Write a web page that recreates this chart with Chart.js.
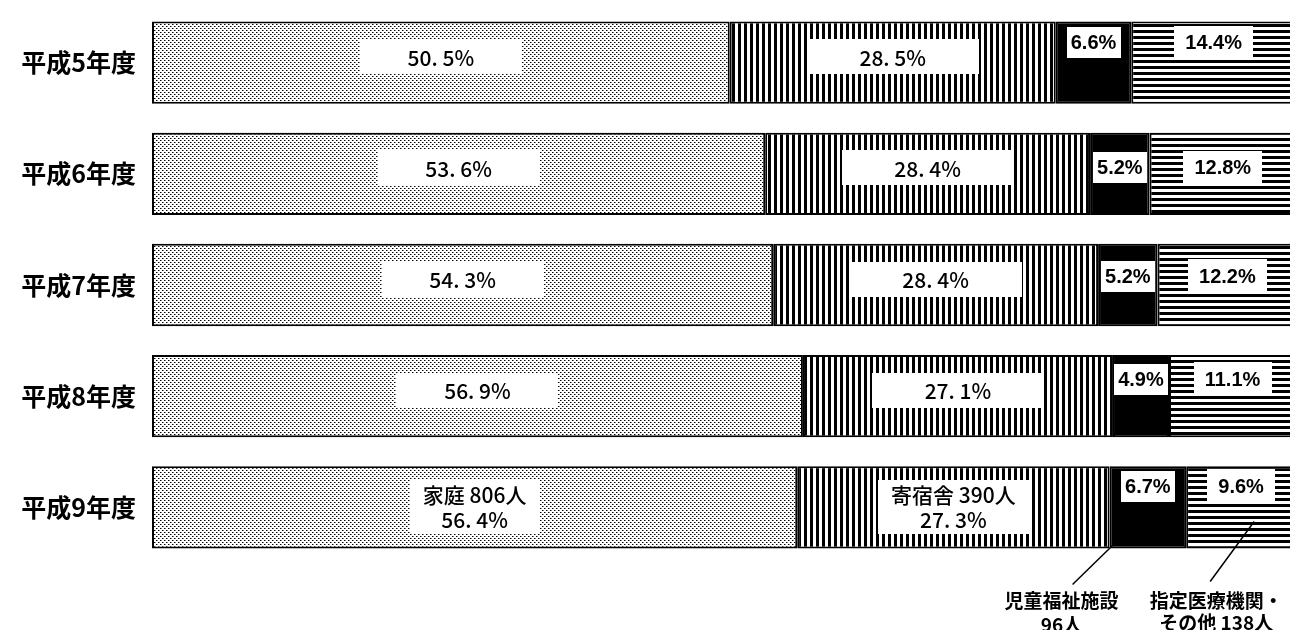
<!DOCTYPE html>
<html>
<head>
<meta charset="utf-8">
<script src="https://cdn.jsdelivr.net/npm/chart.js@4.4.0/dist/chart.umd.min.js"></script>
<style>
  html, body { margin:0; padding:0; background:#fff; overflow:hidden; }
  canvas { display:block; }
</style>
</head>
<body>
<canvas id="chart" width="1296" height="630"></canvas>
<script>
/* ====== Data ====== */
const years = ["平成5年度","平成6年度","平成7年度","平成8年度","平成9年度"];
const seriesNames = ["家庭","寄宿舎","児童福祉施設","指定医療機関・その他"];
const home    = [50.5, 53.6, 54.3, 56.9, 56.4];
const dorm    = [28.5, 28.4, 28.4, 27.1, 27.3];
const welfare = [6.6, 5.2, 5.2, 4.9, 6.7];
const medical = [14.4, 12.8, 12.2, 11.1, 9.6];
const counts9 = [806, 390, 96, 138];   // 平成9年度 人数
const xTicks  = [0, 100];

/* ====== Patterns ====== */
function makePattern(kind){
  const c = document.createElement("canvas");
  const g = c.getContext("2d");
  if (kind === "dots"){
    c.width = 4; c.height = 4;
    g.fillStyle = "#fff"; g.fillRect(0,0,4,4);
    g.fillStyle = "#000"; g.fillRect(0,0,1,1); g.fillRect(2,2,1,1);
    g.fillStyle = "#888"; g.fillRect(1,0,1,1); g.fillRect(3,2,1,1);
  } else if (kind === "vert"){
    c.width = 6; c.height = 6;
    g.fillStyle = "#fff"; g.fillRect(0,0,6,6);
    g.fillStyle = "#000"; g.fillRect(0,0,3,6);
  } else {
    c.width = 6; c.height = 6;
    g.fillStyle = "#fff"; g.fillRect(0,0,6,6);
    g.fillStyle = "#000"; g.fillRect(0,0,6,3);
  }
  return g.createPattern(c, "repeat");
}
const fills = [makePattern("dots"), makePattern("vert"), "#000", makePattern("horiz")];

// label text: first two series in "50. 5%" style
const fmtWide = v => { const [a,b] = v.toFixed(1).split("."); return `${a}. ${b}%`; };
const fmtNarrow = v => `${v.toFixed(1)}%`;
const smallOffset = [-20, -6, -9, -17, -21];

function box(ctx, cx, cy, w, h){
  ctx.fillStyle = "#fff";
  ctx.fillRect(Math.round(cx - w/2), Math.round(cy - h/2), Math.round(w), Math.round(h));
}

const labelPlugin = {
  id: "boxLabels",
  afterDatasetsDraw(chart){
    const { ctx } = chart;
    ctx.save();
    ctx.textAlign = "center";
    ctx.textBaseline = "middle";
    chart.data.datasets.forEach((ds, di) => {
      const meta = chart.getDatasetMeta(di);
      meta.data.forEach((bar, i) => {
        const v = ds.data[i];
        const cx = (bar.x + bar.base) / 2;
        const last = i === years.length - 1;
        if (di < 2){
          ctx.font = '500 21px "Noto Sans CJK JP", sans-serif';
          if (last){
            const l1 = `${seriesNames[di]} ${counts9[di]}人`, l2 = fmtWide(v);
            const w = Math.max(ctx.measureText(l1).width, ctx.measureText(l2).width) + 26;
            box(ctx, cx, bar.y, w, 54);
            ctx.fillStyle = "#000";
            ctx.fillText(l1, cx, bar.y - 12);
            ctx.fillText(l2, cx, bar.y + 13);
          } else {
            const cy = bar.y - 6;
            box(ctx, cx, cy, di === 0 ? 162 : 172, 35);
            ctx.fillStyle = "#000";
            ctx.fillText(fmtWide(v), cx, cy + 1);
          }
        } else {
          ctx.font = 'bold 20px "Liberation Sans Narrow", "Arial Narrow", sans-serif';
          const t = fmtNarrow(v);
          const w = ctx.measureText(t).width + (di === 2 ? 8 : 22);
          const cy = bar.y + smallOffset[i];
          box(ctx, cx, cy, w, di === 2 ? 31 : 34);
          ctx.fillStyle = "#000";
          ctx.fillText(t, cx, cy + 1);
        }
      });
    });

    // 平成9年度 callouts
    const b3 = chart.getDatasetMeta(2).data[years.length - 1];
    const b4 = chart.getDatasetMeta(3).data[years.length - 1];
    const bottom = b3.y + b3.height / 2;
    ctx.strokeStyle = "#000"; ctx.lineWidth = 1.5;
    ctx.beginPath();
    ctx.moveTo(b3.base + 3, bottom - 3); ctx.lineTo(b3.base - 37, bottom + 36);
    ctx.moveTo(b4.base + 68, bottom - 27); ctx.lineTo(b4.base + 24, bottom + 33);
    ctx.stroke();
    ctx.fillStyle = "#000";
    ctx.font = 'bold 19px "Noto Sans CJK JP", sans-serif';
    const c1 = b3.base - 48, c2 = b4.base + 30;
    ctx.fillText(seriesNames[2], c1, bottom + 52);
    ctx.fillText(`${counts9[2]}人`, c1, bottom + 76);
    ctx.fillText("指定医療機関・", c2, bottom + 52);
    ctx.fillText(`その他 ${counts9[3]}人`, c2, bottom + 74);
    ctx.restore();
  }
};

/* ====== Chart ====== */
const seriesValues = [home, dorm, welfare, medical];
new Chart(document.getElementById("chart"), {
  type: "bar",
  data: {
    labels: years,
    datasets: seriesValues.map((d, k) => ({
      label: seriesNames[k],
      data: d,
      backgroundColor: fills[k],
      borderColor: "#000",
      borderWidth: 2,
      borderSkipped: false,
      categoryPercentage: 0.74,
      barPercentage: 1
    }))
  },
  options: {
    indexAxis: "y",
    responsive: false,
    animation: false,
    devicePixelRatio: 1,
    layout: { padding: { top: 7, bottom: 67, left: 0, right: 0 } },
    plugins: { legend: { display:false }, tooltip: { enabled:false } },
    scales: {
      x: { stacked:true, min:xTicks[0], max:xTicks[1], display:false },
      y: {
        stacked:true,
        grid: { display:false, drawTicks:false },
        border: { display:false },
        ticks: { color:"#000", padding:16, font:{ family:'"Noto Sans CJK JP", sans-serif', size:25, weight:"bold" } },
        afterFit(s){ s.width = 152; s.paddingTop = 0; s.paddingBottom = 0; }
      }
    }
  },
  plugins: [labelPlugin]
});
</script>
</body>
</html>
